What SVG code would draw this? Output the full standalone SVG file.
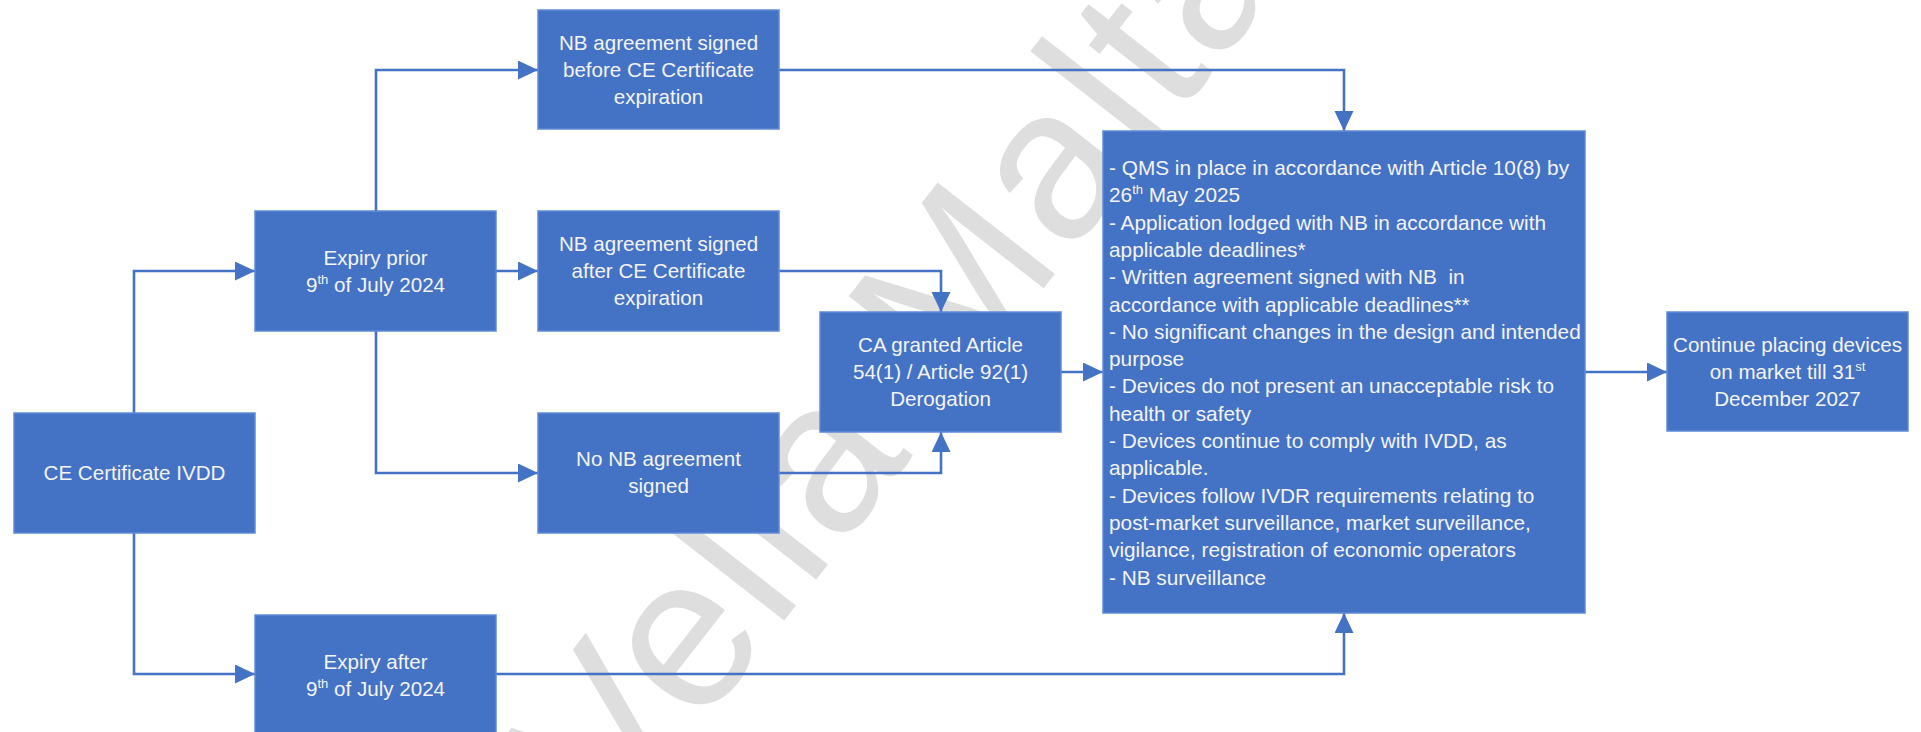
<svg xmlns="http://www.w3.org/2000/svg" width="1921" height="732" viewBox="0 0 1921 732">
  <style>
    .box { fill: #4472C4; stroke: #5f8ad6; stroke-width: 1.5; }
    .lbl { font-family: "Liberation Sans", Arial, sans-serif; font-size: 20.6px; fill: #f4f4f4; text-anchor: middle; }
    .lst { font-family: "Liberation Sans", Arial, sans-serif; font-size: 20.8px; fill: #f4f4f4; white-space: pre; }
    .conn { fill: none; stroke: #4472C4; stroke-width: 2.6; }
    .wm { font-family: "Liberation Sans", Arial, sans-serif; font-size: 216px; fill: #dedede; letter-spacing: 4px; }
  </style>
  <defs>
    <marker id="arr" markerUnits="userSpaceOnUse" markerWidth="20" markerHeight="20" refX="20" refY="9.5" orient="auto">
      <path d="M0,0 L20,9.5 L0,19 z" fill="#4472C4"/>
    </marker>
  </defs>
  <rect width="1921" height="732" fill="#ffffff"/>

  <g id="watermark">
    <text class="wm" transform="translate(615,837) rotate(-52)">Vella Malta</text>
  </g>

  <g id="connectors">
    <path class="conn" d="M134,413 V271 H255" marker-end="url(#arr)"/>
    <path class="conn" d="M134,533 V674 H255" marker-end="url(#arr)"/>
    <path class="conn" d="M376,211 V70 H538" marker-end="url(#arr)"/>
    <path class="conn" d="M496,271 H538" marker-end="url(#arr)"/>
    <path class="conn" d="M376,331 V473 H538" marker-end="url(#arr)"/>
    <path class="conn" d="M779,70 H1344 V131" marker-end="url(#arr)"/>
    <path class="conn" d="M779,271 H941 V312" marker-end="url(#arr)"/>
    <path class="conn" d="M779,473 H941 V432" marker-end="url(#arr)"/>
    <path class="conn" d="M1061,372 H1103" marker-end="url(#arr)"/>
    <path class="conn" d="M496,674 H1344 V613" marker-end="url(#arr)"/>
    <path class="conn" d="M1585,372 H1667" marker-end="url(#arr)"/>
  </g>

  <g id="ce-certificate">
    <rect class="box" x="14" y="413" width="241" height="120"/>
    <text class="lbl" x="134.5" y="480">CE Certificate IVDD</text>
  </g>

  <g id="expiry-prior">
    <rect class="box" x="255" y="211" width="241" height="120"/>
    <text class="lbl" x="375.5" y="265">Expiry prior</text>
    <text class="lbl" x="375.5" y="292">9<tspan font-size="13" dy="-8">th</tspan><tspan dy="8"> of July 2024</tspan></text>
  </g>

  <g id="expiry-after">
    <rect class="box" x="255" y="615" width="241" height="125"/>
    <text class="lbl" x="375.5" y="669">Expiry after</text>
    <text class="lbl" x="375.5" y="696">9<tspan font-size="13" dy="-8">th</tspan><tspan dy="8"> of July 2024</tspan></text>
  </g>

  <g id="nb-before">
    <rect class="box" x="538" y="10" width="241" height="119"/>
    <text class="lbl" x="658.5" y="50">NB agreement signed</text>
    <text class="lbl" x="658.5" y="77">before CE Certificate</text>
    <text class="lbl" x="658.5" y="104">expiration</text>
  </g>

  <g id="nb-after">
    <rect class="box" x="538" y="211" width="241" height="120"/>
    <text class="lbl" x="658.5" y="251">NB agreement signed</text>
    <text class="lbl" x="658.5" y="278">after CE Certificate</text>
    <text class="lbl" x="658.5" y="305">expiration</text>
  </g>

  <g id="no-nb">
    <rect class="box" x="538" y="413" width="241" height="120"/>
    <text class="lbl" x="658.5" y="466">No NB agreement</text>
    <text class="lbl" x="658.5" y="493">signed</text>
  </g>

  <g id="ca-derogation">
    <rect class="box" x="820" y="312" width="241" height="120"/>
    <text class="lbl" x="940.5" y="352">CA granted Article</text>
    <text class="lbl" x="940.5" y="379">54(1) / Article 92(1)</text>
    <text class="lbl" x="940.5" y="406">Derogation</text>
  </g>

  <g id="conditions">
    <rect class="box" x="1103" y="131" width="482" height="482"/>
    <text class="lst" x="1109" y="175">- QMS in place in accordance with Article 10(8) by</text>
    <text class="lst" x="1109" y="202.3">26<tspan font-size="13" dy="-8">th</tspan><tspan dy="8"> May 2025</tspan></text>
    <text class="lst" x="1109" y="229.6">- Application lodged with NB in accordance with</text>
    <text class="lst" x="1109" y="256.9">applicable deadlines*</text>
    <text class="lst" x="1109" y="284.2">- Written agreement signed with NB  in</text>
    <text class="lst" x="1109" y="311.5">accordance with applicable deadlines**</text>
    <text class="lst" x="1109" y="338.8">- No significant changes in the design and intended</text>
    <text class="lst" x="1109" y="366.1">purpose</text>
    <text class="lst" x="1109" y="393.4">- Devices do not present an unacceptable risk to</text>
    <text class="lst" x="1109" y="420.7">health or safety</text>
    <text class="lst" x="1109" y="448">- Devices continue to comply with IVDD, as</text>
    <text class="lst" x="1109" y="475.3">applicable.</text>
    <text class="lst" x="1109" y="502.6">- Devices follow IVDR requirements relating to</text>
    <text class="lst" x="1109" y="529.9">post-market surveillance, market surveillance,</text>
    <text class="lst" x="1109" y="557.2">vigilance, registration of economic operators</text>
    <text class="lst" x="1109" y="584.5">- NB surveillance</text>
  </g>

  <g id="continue">
    <rect class="box" x="1667" y="312" width="241" height="119"/>
    <text class="lbl" x="1787.5" y="352">Continue placing devices</text>
    <text class="lbl" x="1787.5" y="379">on market till 31<tspan font-size="13" dy="-8">st</tspan></text>
    <text class="lbl" x="1787.5" y="406">December 2027</text>
  </g>
</svg>
